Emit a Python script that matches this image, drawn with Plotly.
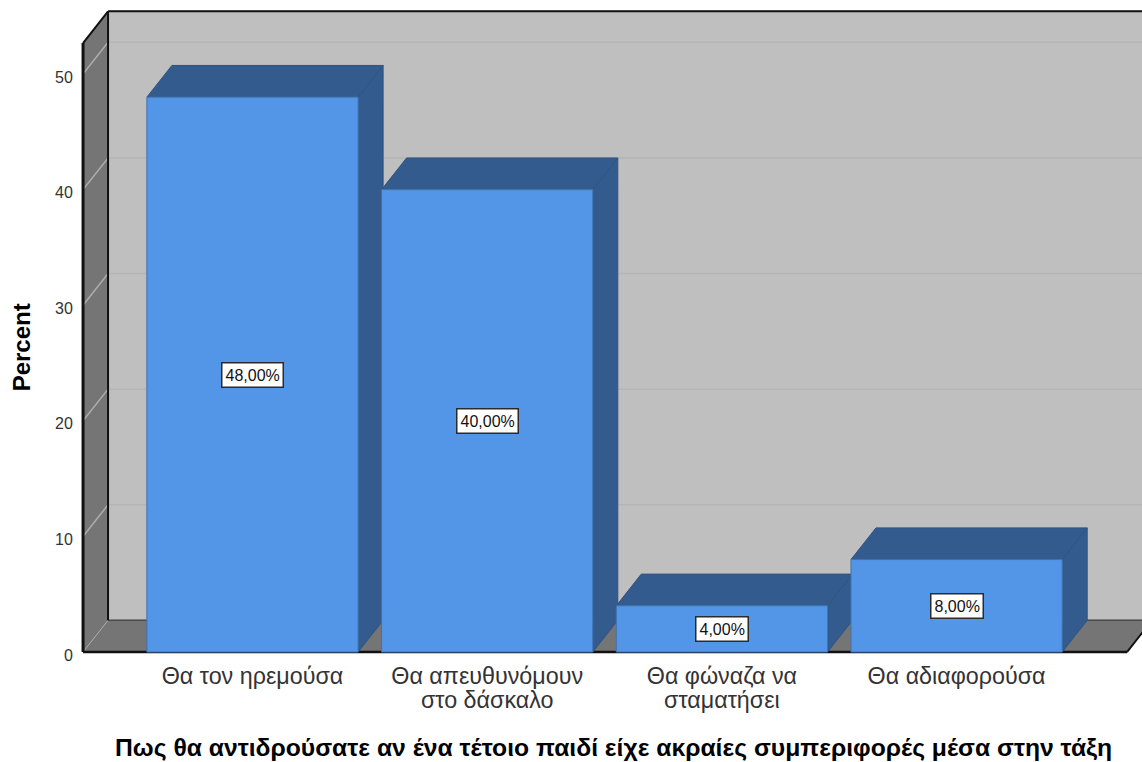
import plotly.graph_objects as go

categories = ["Θα τον ηρεμούσα", "Θα απευθυνόμουν<br>στο δάσκαλο", "Θα φώναζα να<br>σταματήσει", "Θα αδιαφορούσα"]
percent = [48, 40, 4, 8]
value_labels = ["48,00%", "40,00%", "4,00%", "8,00%"]
y_ticks = [0, 10, 20, 30, 40, 50]
y_title = "Percent"
x_title = "Πως θα αντιδρούσατε αν ένα τέτοιο παιδί είχε ακραίες συμπεριφορές μέσα στην τάξη"

# Oblique projection used for the box and the bar depth, in axis units
DX, DY = 0.1065, 2.74
BAR_W = 0.9
X0, X1 = -0.722, 3.726
YTOP = 52.68

FRONT, SHADE, EDGE = "#5395E6", "#335B8D", "#2F5480"
WALL, BACK, GRID_BACK, GRID_WALL = "#757575", "#BFBFBF", "#B5B5B5", "#ADADAD"
INK = "#111111"


def poly(pts, fill, line=None, width=1):
    path = "M " + " L ".join(f"{x},{y}" for x, y in pts) + " Z"
    return dict(type="path", path=path, xref="x", yref="y", layer="below", fillcolor=fill,
                line=dict(color=line or fill, width=width))


def seg(x0, y0, x1, y1, color, width):
    return dict(type="line", x0=x0, y0=y0, x1=x1, y1=y1, xref="x", yref="y", layer="below",
                line=dict(color=color, width=width))


shapes = [
    poly([(X0 + DX, DY), (X1 + DX, DY), (X1 + DX, YTOP + DY), (X0 + DX, YTOP + DY)], BACK),
    poly([(X0, 0), (X0 + DX, DY), (X0 + DX, YTOP + DY), (X0, YTOP)], WALL),
    poly([(X0, 0), (X1, 0), (X1 + DX, DY), (X0 + DX, DY)], WALL),
]
for t in y_ticks[1:]:
    shapes.append(seg(X0 + DX, t + DY, X1 + DX, t + DY, GRID_BACK, 1.5))
    shapes.append(seg(X0, t, X0 + DX, t + DY, GRID_WALL, 1.5))
shapes += [
    seg(X0, 0, X0 + DX, DY, GRID_WALL, 1),
    seg(X0 + DX, DY, X1 + DX, DY, "#4A4A4A", 1.5),
    seg(X0, 0, X0, YTOP, INK, 3),
    seg(X0 + DX, DY, X0 + DX, YTOP + DY, INK, 2),
    seg(X0, YTOP, X0 + DX, YTOP + DY, INK, 2),
    seg(X0 + DX, YTOP + DY, X1 + DX, YTOP + DY, INK, 2),
    seg(X0, 0, X1, 0, INK, 2.5),
    seg(X1, 0, X1 + DX, DY, INK, 2),
]

# Top and side faces of every bar, left to right
for i, v in enumerate(percent):
    l, r = i - BAR_W / 2, i + BAR_W / 2
    shapes.append(poly([(r, 0), (r + DX, DY), (r + DX, v + DY), (r, v)], SHADE, EDGE))
    shapes.append(poly([(l, v), (r, v), (r + DX, v + DY), (l + DX, v + DY)], SHADE, EDGE))

fig = go.Figure(go.Bar(
    x=list(range(len(percent))), y=percent, width=BAR_W,
    marker=dict(color=FRONT, line=dict(color="#3F73B0", width=1)),
    hoverinfo="skip",
))

annotations = [
    dict(x=i, y=v / 2, xref="x", yref="y", text=lab, showarrow=False,
         font=dict(family="Liberation Sans", size=16, color="#111111"),
         bgcolor="#FFFFFF", bordercolor="#2B2B2B", borderwidth=1.5, borderpad=3)
    for i, (v, lab) in enumerate(zip(percent, value_labels))
]
annotations += [
    dict(x=1.54, y=-0.168, xref="x", yref="paper", text=f"<b>{x_title}</b>", showarrow=False,
         font=dict(family="Liberation Sans", size=24.7, color="#000000")),
    dict(x=-0.0534, y=0.475, xref="paper", yref="paper", text=f"<b>{y_title}</b>", showarrow=False,
         textangle=-90, font=dict(family="Liberation Sans", size=24, color="#000000"),
         xanchor="center"),
]

# The tick font size sets the line pitch; the span sets the glyph size
tick_text = ["<br>".join(f'<span style="font-size:23.3px">{p}</span>' for p in c.split("<br>"))
             for c in categories]

fig.update_layout(
    width=1142, height=762, autosize=False, showlegend=False,
    margin=dict(l=78, r=0, t=8, b=108),
    paper_bgcolor="#FFFFFF", plot_bgcolor="#FFFFFF",
    shapes=shapes, annotations=annotations,
    font=dict(family="Liberation Sans"),
    xaxis=dict(
        range=[-0.7435, 3.79], tickmode="array", tickvals=list(range(len(categories))),
        ticktext=tick_text, showgrid=False, zeroline=False, showline=False,
        ticks="outside", ticklen=7, tickcolor="rgba(0,0,0,0)",
        tickfont=dict(size=18.5, color="#333333"),
    ),
    yaxis=dict(
        range=[-0.17, 55.71], tickmode="array", tickvals=y_ticks, showgrid=False, zeroline=False,
        showline=False, ticks="outside", ticklen=1, tickcolor="rgba(0,0,0,0)",
        ticklabelshift=3, tickfont=dict(size=16, color="#333333"),
    ),
)

fig.write_html("out.html")
